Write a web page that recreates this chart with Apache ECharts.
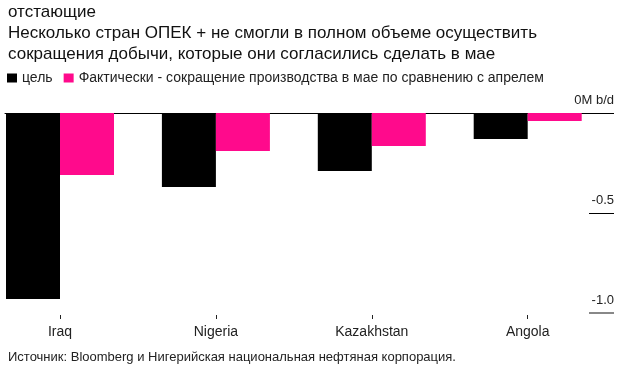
<!DOCTYPE html>
<html>
<head>
<meta charset="utf-8">
<script src="https://cdn.jsdelivr.net/npm/echarts@6/dist/echarts.min.js"></script>
<style>
html,body{margin:0;padding:0;background:#fff;}
#chart{width:624px;height:371px;}
</style>
</head>
<body>
<div id="chart"></div>
<script>
// Data
const categories = ['Iraq', 'Nigeria', 'Kazakhstan', 'Angola'];
const targetValues = [-0.93, -0.37, -0.29, -0.13];
const actualValues = [-0.31, -0.19, -0.165, -0.04];
const yTickValues = [0, -0.5, -1.0];
const yTickLabels = ['0M b/d', '-0.5', '-1.0'];
const seriesNames = ['цель', 'Фактически - сокращение производства в мае по сравнению с апрелем'];
const titleLines = ['отстающие', 'Несколько стран ОПЕК + не смогли в полном объеме осуществить', 'сокращения добычи, которые они согласились сделать в мае'];
const sourceText = 'Источник: Bloomberg и Нигерийская национальная нефтяная корпорация.';

const FONT = "'Liberation Sans', Arial, sans-serif";
const chart = echarts.init(document.getElementById('chart'), null, {renderer: 'canvas'});

chart.setOption({
  animation: false,
  backgroundColor: '#fff',
  textStyle: {fontFamily: FONT},
  title: [
    {
      text: titleLines.join('\n'),
      left: 3, top: -3,
      textStyle: {fontFamily: FONT, fontSize: 17, fontWeight: 'normal', color: '#111', lineHeight: 21}
    },
    {
      text: sourceText,
      left: 3, top: 346,
      textStyle: {fontFamily: FONT, fontSize: 13, fontWeight: 'normal', color: '#222'}
    }
  ],
  legend: {
    left: 5, top: 69,
    icon: 'rect', itemWidth: 10, itemHeight: 9, itemGap: 11,
    padding: 2,
    textStyle: {fontFamily: FONT, fontSize: 14, color: '#222'},
    data: seriesNames
  },
  grid: [
    {left: -17.95, width: 623.6, top: 113, height: 200, containLabel: false, outerBoundsMode: 'none'},
    {left: 5, right: 35, top: 113, height: 200, containLabel: false, outerBoundsMode: 'none'},
    {left: -17.95, width: 623.6, top: 305, height: 10, containLabel: false, outerBoundsMode: 'none'}
  ],
  xAxis: [
    {
      type: 'category', gridIndex: 0, data: categories,
      axisLine: {show: false}, axisTick: {show: false}, axisLabel: {show: false}, splitLine: {show: false}
    },
    {
      type: 'category', gridIndex: 1, data: categories, position: 'top',
      axisLine: {show: true, onZero: false, lineStyle: {color: '#000', width: 1}},
      axisTick: {show: false}, axisLabel: {show: false}, splitLine: {show: false}
    },
    {
      type: 'category', gridIndex: 2, data: categories, position: 'bottom',
      axisLine: {show: false},
      axisTick: {show: true, interval: 0, alignWithLabel: true, length: 4, lineStyle: {color: '#222', width: 1}},
      axisLabel: {fontFamily: FONT, fontSize: 14, color: '#222', margin: 10},
      splitLine: {show: false}
    }
  ],
  yAxis: [
    {type: 'value', gridIndex: 0, min: -1, max: 0, show: false},
    {
      type: 'value', gridIndex: 1, min: -1, max: 0, interval: 0.5, position: 'right',
      axisLine: {show: false}, splitLine: {show: false},
      axisTick: {show: true, inside: false, length: 25, customValues: [0, -0.5], lineStyle: {color: '#000', width: 1}},
      axisLabel: {
        show: true, customValues: yTickValues, margin: 25, align: 'right', verticalAlign: 'bottom',
        fontFamily: FONT, fontSize: 13, color: '#222', padding: [0, 0, 6, 0],
        formatter: function (v) {
          const i = yTickValues.findIndex(t => Math.abs(t - v) < 1e-9);
          return i >= 0 ? yTickLabels[i] : '';
        }
      }
    },
    {
      type: 'value', gridIndex: 1, min: -1, max: 0, interval: 0.5, position: 'right',
      axisLine: {show: false}, splitLine: {show: false}, axisLabel: {show: false},
      axisTick: {show: true, inside: false, length: 25, customValues: [-1], lineStyle: {color: '#888', width: 2}}
    },
    {type: 'value', gridIndex: 2, min: 0, max: 1, show: false}
  ],
  series: [
    {
      name: seriesNames[0], type: 'bar', xAxisIndex: 0, yAxisIndex: 0,
      data: targetValues, barWidth: 54, barGap: '0%',
      itemStyle: {color: '#000'}
    },
    {
      name: seriesNames[1], type: 'bar', xAxisIndex: 0, yAxisIndex: 0,
      data: actualValues, barWidth: 54, barGap: '0%',
      itemStyle: {color: '#ff0a8c'}
    }
  ]
});
</script>
</body>
</html>
